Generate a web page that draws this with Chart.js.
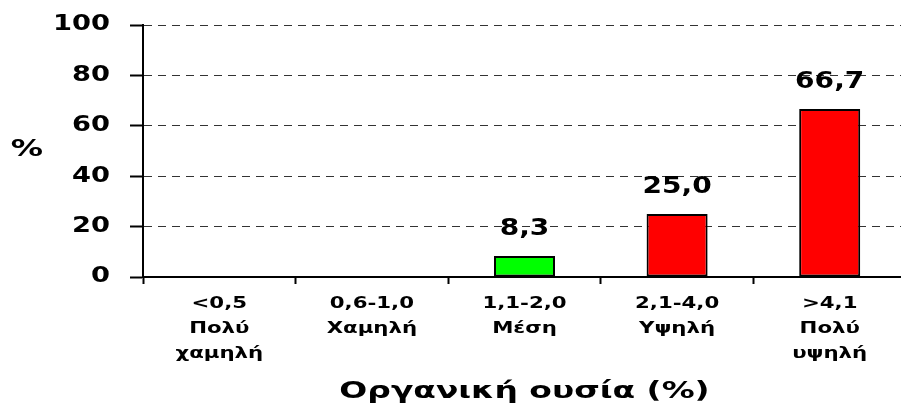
<!DOCTYPE html>
<html>
<head>
<meta charset="utf-8">
<script src="https://cdn.jsdelivr.net/npm/chart.js@4/dist/chart.umd.min.js"></script>
<style>
  html, body { margin: 0; padding: 0; background: #ffffff; overflow: hidden; width: 901px; height: 408px; }
  #wrap { position: absolute; left: 0; top: 0; width: 906px; height: 408px; }
</style>
</head>
<body>
<div id="wrap"><canvas id="c"></canvas></div>
<script>
// ---- data ----
const categories = [
  ["<0,5", "Πολύ", "χαμηλή"],
  ["0,6-1,0", "Χαμηλή"],
  ["1,1-2,0", "Μέση"],
  ["2,1-4,0", "Υψηλή"],
  [">4,1", "Πολύ", "υψηλή"]
];
const percentages = [0, 0, 8.3, 25.0, 66.7];
const yTickValues = [0, 20, 40, 60, 80, 100];
const xTitle = "Οργανική ουσία (%)";
const yTitle = "%";

const FONT = "'DejaVu Sans', 'Liberation Sans', Arial, sans-serif";
const barColors = ["#ff0000", "#ff0000", "#00ff00", "#ff0000", "#ff0000"];

function fmt(v) { return v.toFixed(1).replace('.', ','); }

// draw text horizontally stretched around its anchor point (the reference text is wide)
function stretchedFill(ctx, text, x, y, sx) {
  ctx.save();
  ctx.translate(x, y);
  ctx.scale(sx, 1);
  ctx.fillText(text, 0, 0);
  ctx.restore();
}

// per-scale horizontal stretch for the library-drawn tick labels
const stretchPlugin = {
  id: 'stretch',
  afterUpdate(chart) {
    const spec = { x: 1.33, y: 1.3 };
    Object.keys(spec).forEach(id => {
      const s = chart.scales[id];
      if (s && !s._stWrapped) {
        const orig = s.drawLabels.bind(s);
        s.drawLabels = function (area) {
          const c = this.ctx;
          const origFill = c.fillText;
          c.fillText = function (text, x, y) {
            c.save();
            c.translate(x, y);
            c.scale(spec[id], 1);
            origFill.call(c, text, 0, 0);
            c.restore();
          };
          try { orig(area); } finally { c.fillText = origFill; }
        };
        s._stWrapped = true;
      }
    });
  }
};

const textPlugin = {
  id: 'texts',
  afterDatasetsDraw(chart) {
    const ctx = chart.ctx;
    const meta = chart.getDatasetMeta(0);
    ctx.save();
    ctx.font = "bold 23px " + FONT;
    ctx.fillStyle = '#000';
    ctx.textAlign = 'center';
    ctx.textBaseline = 'middle';
    meta.data.forEach((bar, i) => {
      const v = percentages[i];
      if (!v) return;
      stretchedFill(ctx, fmt(v), bar.x, bar.y - 27, 1.22);
    });
    ctx.restore();
  },
  afterDraw(chart) {
    const ctx = chart.ctx;
    const a = chart.chartArea;
    ctx.save();
    ctx.fillStyle = '#000';
    ctx.textAlign = 'center';
    ctx.textBaseline = 'middle';
    ctx.font = "bold 23px " + FONT;
    stretchedFill(ctx, xTitle, (a.left + a.right) / 2, 392, 1.43);
    stretchedFill(ctx, yTitle, 27, (a.top + a.bottom) / 2 - 1, 1.4);
    ctx.restore();
  }
};

new Chart(document.getElementById('c'), {
  type: 'bar',
  data: {
    labels: categories,
    datasets: [{
      data: percentages,
      backgroundColor: barColors,
      borderColor: '#000000',
      borderWidth: 2,
      borderSkipped: false,
      categoryPercentage: 1.0,
      barPercentage: 0.4
    }]
  },
  options: {
    responsive: true,
    maintainAspectRatio: false,
    animation: false,
    devicePixelRatio: 1,
    layout: { padding: { top: 25, right: 0, bottom: 0, left: 0 } },
    plugins: { legend: { display: false }, tooltip: { enabled: false }, title: { display: false } },
    scales: {
      x: {
        offset: true,
        afterFit(s) { s.height = 131; s.paddingLeft = 0; s.paddingRight = 0; },
        grid: {
          offset: true,
          drawOnChartArea: false,
          drawTicks: true,
          tickLength: 7,
          tickColor: '#000',
          tickWidth: 2
        },
        border: { display: true, color: '#000', width: 2 },
        ticks: {
          color: '#000',
          font: { family: FONT, size: 16, weight: 'bold', lineHeight: 1.5625 },
          padding: 7,
          maxRotation: 0,
          autoSkip: false
        }
      },
      y: {
        min: yTickValues[0],
        max: yTickValues[yTickValues.length - 1],
        afterFit(s) { s.width = 143; s.paddingTop = 0; s.paddingBottom = 0; },
        afterBuildTicks(s) { s.ticks = yTickValues.map(v => ({ value: v })); },
        grid: {
          color: '#333',
          lineWidth: 1,
          drawTicks: true,
          tickLength: 13,
          tickColor: '#000',
          tickWidth: 2,
          tickBorderDash: []
        },
        border: { display: true, color: '#000', width: 2, dash: [8, 6] },
        ticks: {
          color: '#000',
          font: { family: FONT, size: 21, weight: 'bold' },
          padding: 20
        }
      }
    }
  },
  plugins: [stretchPlugin, textPlugin]
});
</script>
</body>
</html>
